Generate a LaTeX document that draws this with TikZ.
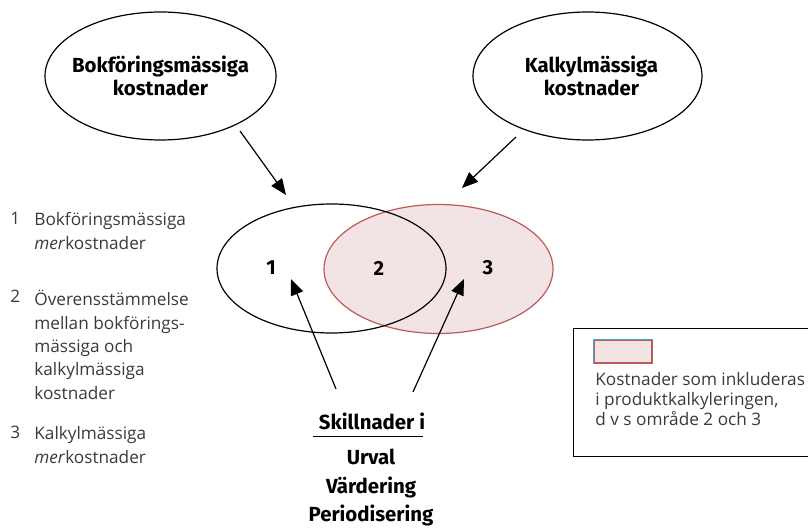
\documentclass[tikz,border=0pt]{standalone}
\usepackage{fontspec}
\setmainfont{Open Sans}
\newfontfamily\headfont{Fira Sans}
\usetikzlibrary{shapes.geometric, arrows.meta, positioning}
\definecolor{vennfill}{HTML}{F2E4E4}
\definecolor{vennred}{HTML}{BD5A57}
\definecolor{swatchblue}{HTML}{4BACC6}
\definecolor{listgray}{HTML}{3A3A3A}
\tikzset{
	oval/.style={ellipse, draw, line width=0.6pt, minimum width=114.5pt, minimum height=64pt},
	venn/.style={ellipse, line width=0.6pt, minimum width=114.5pt, minimum height=64.5pt},
	headtext/.style={align=center, font=\headfont\bfseries\fontsize{10.2}{11.6}\selectfont},
	listtext/.style={anchor=north west, align=left, inner sep=0pt, text=listgray, font=\fontsize{8.6}{11.8}\selectfont},
	line/.style={draw, line width=0.6pt, -{Triangle[length=8pt, width=6.5pt]}}
}

\begin{document}
\begin{tikzpicture}[x=0.5pt, y=-0.5pt,
		legendbox/.style={rectangle, draw, line width=0.5pt, minimum width=119.5pt, minimum height=64pt},
		swatch/.style={rectangle, draw=vennred, fill=vennfill, line width=0.6pt, minimum width=29pt, minimum height=11.5pt, inner sep=0pt},
		bottomtext/.style={headtext, anchor=base, inner sep=0pt}
		]
		\useasboundingbox (0,0) rectangle (808,528);
		
		% Top row - the two kinds of costs
		\node[oval, minimum width=115.5pt] (bok) at (160.5,76) {};
		\node[headtext] (boktext) at (bok.center) {Bokföringsmässiga\\kostnader};
		\node[oval] (kalk) at (587.5,76) {};
		\node[headtext] (kalktext) at ([xshift=2pt]kalk.center) {Kalkylmässiga\\kostnader};
		
		% Venn diagram - filled set first, outline on top
		\node[venn, draw=vennred, fill=vennfill] (kalkset) at (438.5,269) {};
		\node[venn, draw] (bokset) at (331.5,268.5) {};
		\node[headtext] (area1) at (271,268) {1};
		\node[headtext] (area2) at (379,268) {2};
		\node[headtext] (area3) at (488,268) {3};
		
		% Bottom text - differences
		\node[bottomtext] (diff) at (372,430) {Skillnader i};
		\node[bottomtext] (urval) at (371,465) {Urval};
		\node[bottomtext] (varde) at (371,494) {Värdering};
		\node[bottomtext] (period) at (371,522) {Periodisering};
		\draw[line width=0.8pt] ([xshift=-3pt, yshift=-3.2pt]diff.base west) -- ([xshift=-1pt, yshift=-3.2pt]diff.base east);
		
		% Left side - explanation of the areas
		\node[listtext] (num1) at (10,212) {1};
		\node[listtext] (list1) at (34,212) {Bokföringsmässiga\\\textit{mer}kostnader};
		\node[listtext] (num2) at (10,290) {2};
		\node[listtext, font=\fontsize{8.6}{11.7}\selectfont] (list2) at (34,290) {Överensstämmelse\\mellan bokförings-\\mässiga och\\kalkylmässiga\\kostnader};
		\node[listtext] (num3) at (10,426) {3};
		\node[listtext] (list3) at (34,426) {Kalkylmässiga\\\textit{mer}kostnader};
		
		% Legend box
		\node[legendbox] (legend) at (692.5,393) {};
		\node[swatch] (swatch) at (623,351.5) {};
		\draw[swatchblue, line width=0.8pt] (swatch.south west) -- (swatch.north west) -- (swatch.north east);
		\node[listtext, font=\fontsize{8.6}{10}\selectfont] (legendtext) at (595,372) {Kostnader som inkluderas\\i produktkalkyleringen,\\d v s område 2 och 3};
		
		% Arrows
		\coordinate (bokout) at (240,131);
		\coordinate (bokin) at (286,195);
		\coordinate (kalkout) at (516,137);
		\coordinate (kalkin) at (462,188);
		\coordinate (diffleft) at (336,389);
		\coordinate (diffright) at (413,392);
		\coordinate (tip1) at (291,279);
		\coordinate (tip3) at (464,279);
		\draw[line] (bokout) -- (bokin);
		\draw[line] (kalkout) -- (kalkin);
		\draw[line] (diffleft) -- (tip1);
		\draw[line] (diffright) -- (tip3);
		
	\end{tikzpicture}
\end{document}
